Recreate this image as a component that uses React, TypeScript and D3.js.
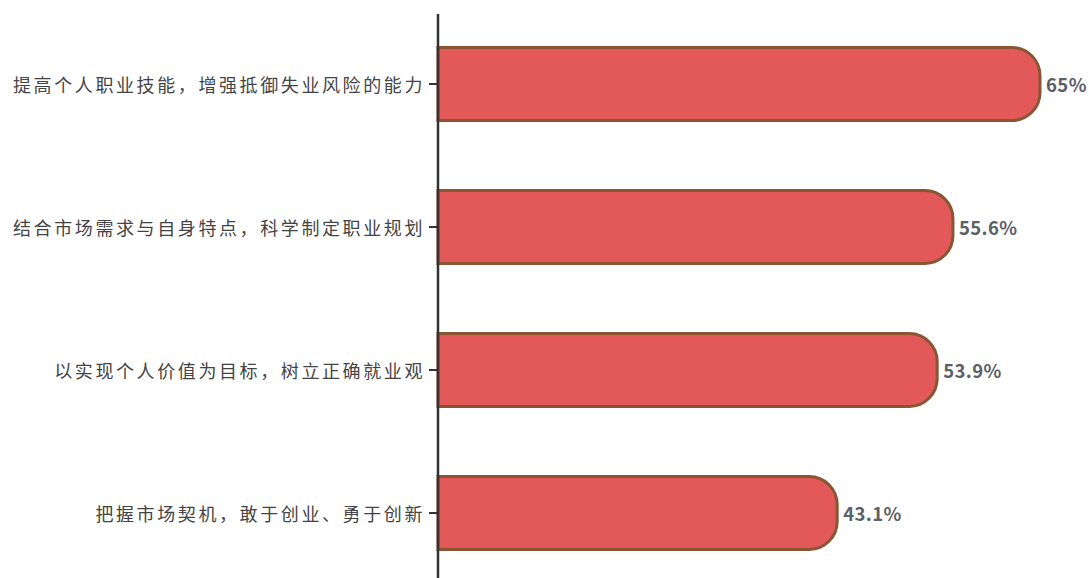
import React from "react";
import * as d3 from "d3";

const categories = [
  "提高个人职业技能，增强抵御失业风险的能力",
  "结合市场需求与自身特点，科学制定职业规划",
  "以实现个人价值为目标，树立正确就业观",
  "把握市场契机，敢于创业、勇于创新",
];
const values = [65, 55.6, 53.9, 43.1];
const valueLabels = ["65%", "55.6%", "53.9%", "43.1%"];

const W = 1089;
const H = 578;
const axisX = 438;

export default function App() {
  const x = d3.scaleLinear().domain([0, 65]).range([axisX, 1040]);
  const y = d3
    .scaleBand<string>()
    .domain(categories)
    .range([12.5, 584.5])
    .paddingInner(0.49)
    .paddingOuter(0.245);
  const bh = y.bandwidth();
  const r = 28;

  const barPath = (v: number, top: number) => {
    const x0 = x(0);
    const x1 = x(v);
    const b = top + bh;
    return `M${x0},${top} L${x1 - r},${top} A${r},${r} 0 0 1 ${x1},${top + r} L${x1},${b - r} A${r},${r} 0 0 1 ${x1 - r},${b} L${x0},${b} Z`;
  };

  return (
    <svg
      width={W}
      height={H}
      style={{ position: "absolute", left: 0, top: 0, background: "#fff" }}
      fontFamily="'Noto Sans CJK SC', 'Noto Sans', sans-serif"
    >
      {categories.map((c, i) => {
        const top = y(c)!;
        const cy = top + bh / 2;
        return (
          <g key={c}>
            <path
              d={barPath(values[i], top)}
              fill="#E35959"
              stroke="#8A5532"
              strokeWidth={3}
            />
            <line x1={axisX - 9} x2={axisX} y1={cy} y2={cy} stroke="#333" strokeWidth={2} />
            <text
              x={axisX - 13}
              y={cy}
              textAnchor="end"
              dominantBaseline="central"
              fontSize={18}
              letterSpacing={2.6}
              fill="#444"
            >
              {c}
            </text>
            <text
              x={x(values[i]) + 6}
              y={cy}
              dominantBaseline="central"
              fontSize={18.5}
              letterSpacing={0.4}
              fontWeight={600}
              fill="#5c6066"
            >
              {valueLabels[i]}
            </text>
          </g>
        );
      })}
      <line x1={axisX} x2={axisX} y1={14} y2={H} stroke="#333" strokeWidth={2.5} />
    </svg>
  );
}
